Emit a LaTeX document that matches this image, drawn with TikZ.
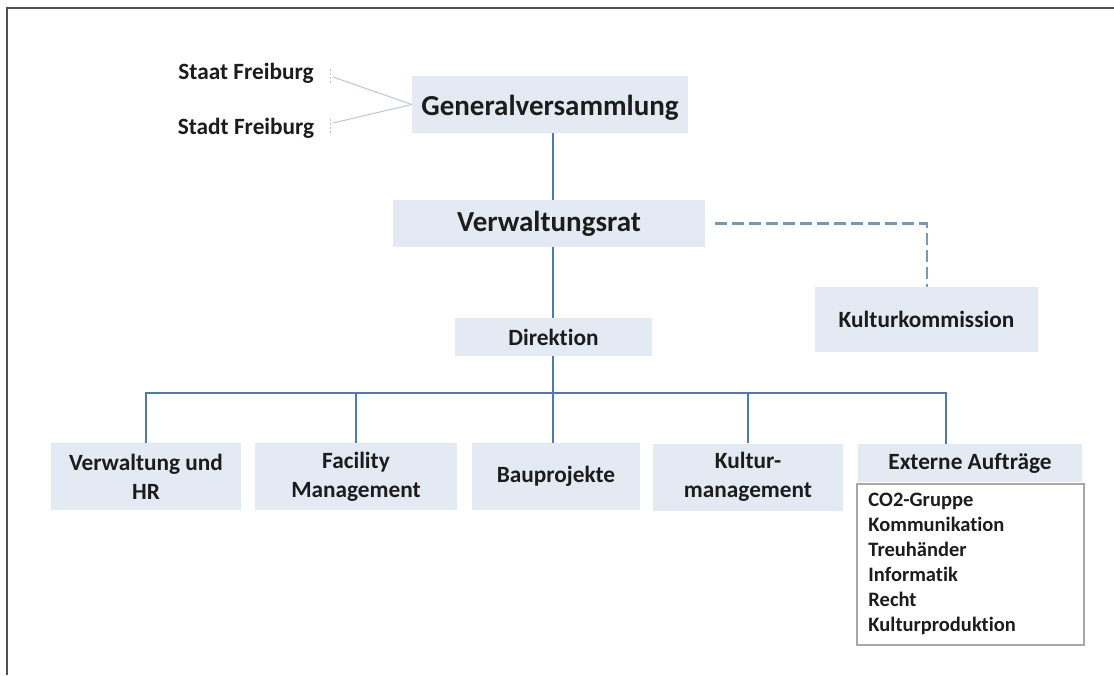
\documentclass[tikz,border=0pt]{standalone}
\usepackage{fontspec}
\setmainfont{Carlito}[Ligatures=NoCommon]
\definecolor{boxfill}{HTML}{E3EAF3}
\definecolor{linecol}{HTML}{4E7BAA}
\definecolor{dashcol}{HTML}{7896B6}
\definecolor{thincol}{HTML}{B9C7D6}
\definecolor{txt}{HTML}{1C1C1C}
\definecolor{framecol}{HTML}{505050}
\definecolor{listborder}{HTML}{A8A8A8}
\begin{document}
\begin{tikzpicture}[x=1pt,y=-1pt,
  orgbox/.style={fill=boxfill, draw=none, text=txt, font=\bfseries, align=center, inner sep=0pt},
  conn/.style={draw=linecol, line width=2.4pt},
  dconn/.style={draw=dashcol, line width=2.4pt, dash pattern=on 12pt off 5pt},
  thin/.style={draw=thincol, line width=1pt},
  big/.style={font=\bfseries\fontsize{29}{32}\selectfont},
  mid/.style={font=\bfseries\fontsize{23.3}{26}\selectfont},
  lbl/.style={text=txt, font=\bfseries\fontsize{23.3}{26}\selectfont, inner sep=0pt}
]
\useasboundingbox (0,0) rectangle (1114,675);
\fill[white] (0,0) rectangle (1114,675);
\draw[framecol, line width=2pt] (7,675) -- (7,8) -- (1114,8);

% nodes
\node[orgbox, big, minimum width=276pt, minimum height=57pt, text height=28pt, text depth=6pt] (gv) at (550,104.5) {Generalversammlung};
\node[orgbox, big, minimum width=312pt, minimum height=47pt] (vr) at (549,223.5) {Verwaltungsrat};
\node[orgbox, mid, minimum width=223pt, minimum height=65pt] (kk) at (926.5,319.5) {Kulturkommission};
\node[orgbox, mid, minimum width=197pt, minimum height=38pt] (dir) at (553.5,337) {Direktion};

\node[lbl, anchor=center] (staat) at (246,73) {Staat Freiburg};
\node[lbl, anchor=center] (stadt) at (246,128) {Stadt Freiburg};

\tikzset{bot/.style={orgbox, minimum height=67pt, font=\bfseries\fontsize{23.3}{29}\selectfont}}
\node[bot, minimum width=190pt] (b1) at (146,476.5) {Verwaltung und\\HR};
\node[bot, minimum width=202pt] (b2) at (356,476.5) {Facility\\Management};
\node[bot, minimum width=168pt] (b3) at (556,476.5) {Bauprojekte};
\node[bot, minimum width=190pt] (b4) at (748,477) {Kultur-\\management};
\node[orgbox, mid, minimum width=224pt, minimum height=38pt] (b5) at (970,463) {Externe Aufträge};
\node[draw=listborder, fill=white, line width=1.5pt, minimum width=227pt, minimum height=161pt, inner sep=0pt] (list) at (970.5,564.5) {};
\node[anchor=north west, text=txt, align=left, inner sep=0pt, font=\bfseries\fontsize{20.5}{25}\selectfont] (items) at ([xshift=12pt,yshift=-10pt]list.north west)
  {CO2-Gruppe\\Kommunikation\\Treuhänder\\Informatik\\Recht\\Kulturproduktion};

% coordinates
\coordinate (spine) at (553,0);
\coordinate (bus) at (553,393);
\coordinate (kkin) at (927,0);
\coordinate (b5in) at (946,0);
\coordinate (st1) at (333,77);
\coordinate (st2) at (333,123);

% connectors
\draw[conn] (gv.south -| spine) -- (vr.north -| spine);
\draw[conn] (vr.south -| spine) -- (dir.north -| spine);
\draw[conn] (dir.south -| spine) -- (bus);
\draw[conn] (b1.north) |- (bus) -| (b5.north -| b5in);
\draw[conn] (b2.north) -- (b2.north |- bus);
\draw[conn] (b3.north -| bus) -- (bus);
\draw[conn] (b4.north) -- (b4.north |- bus);
\draw[dconn] ([xshift=10pt]vr.east) -- (vr.east -| kkin) -- (kk.north -| kkin);
\draw[thin] (st1) -- (gv.west);
\draw[thin] (st2) -- (gv.west);
\draw[thin, dash pattern=on 2pt off 2pt] ([xshift=-3pt]st1) ++(0,-8) -- ++(0,14);
\draw[thin, dash pattern=on 2pt off 2pt] ([xshift=-3pt]st2) ++(0,-4) -- ++(0,14);
\end{tikzpicture}
\end{document}
